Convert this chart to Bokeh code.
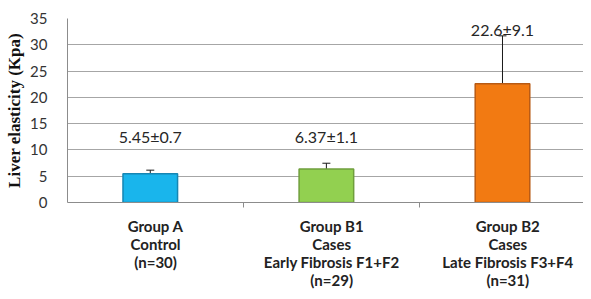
from bokeh.plotting import figure
from bokeh.models import ColumnDataSource, Range1d, FixedTicker, Whisker, TeeHead
from bokeh.transform import dodge
from bokeh.core.properties import value
from bokeh.embed import file_html
from bokeh.resources import INLINE

groups = ["Group A\nControl\n(n=30)",
          "Group B1\nCases\nEarly Fibrosis F1+F2\n(n=29)",
          "Group B2\nCases\nLate Fibrosis F3+F4\n(n=31)"]
means = [5.45, 6.37, 22.6]
sds = [0.7, 1.1, 9.1]
labels = ["5.45±0.7", "6.37±1.1", "22.6±9.1"]
label_y = [12.5, 12.5, 33.0]
fills = ["#19b5ec", "#92d050", "#f27a12"]
borders = ["#1686b3", "#6f9e3c", "#b85a14"]

centers = [i + 0.5 for i in range(len(groups))]
bounds = [i + 1 for i in range(len(groups) - 1)]
src = ColumnDataSource(dict(
    x=centers, top=means,
    upper=[m + s for m, s in zip(means, sds)],
    lower=[m - s for m, s in zip(means, sds)],
    lab=labels, ly=label_y, fill=fills, border=borders))

p = figure(width=583, height=291, output_backend="svg", toolbar_location=None,
           x_range=Range1d(0, 2.93), y_range=Range1d(0, 35),
           min_border_left=67, min_border_right=0, min_border_top=18,
           min_border_bottom=84)
p.outline_line_color = None
p.background_fill_color = "white"

xb = dodge("x", -0.03, range=p.x_range)
p.vbar(x=xb, top="top", width=0.31, bottom=0, source=src,
       fill_color="fill", line_color="border", line_width=1.5)

w = Whisker(base=xb, upper="upper", lower="lower", source=src,
            line_color="#1a1a1a", line_width=1,
            upper_head=TeeHead(size=8, line_color="#1a1a1a", line_width=1),
            lower_head=TeeHead(size=8, line_color="#1a1a1a", line_width=1))
p.add_layout(w)

p.text(x=xb, y="ly", text="lab", source=src, text_align="center",
       text_baseline="middle", text_font=value("Lato"),
       text_font_size="16px", text_color="#262626")

# axes
p.yaxis.ticker = FixedTicker(ticks=list(range(0, 36, 5)))
p.yaxis.axis_label = "Liver elasticity (Kpa)"
p.yaxis.axis_label_text_font = "Liberation Serif"
p.yaxis.axis_label_text_font_style = "bold"
p.yaxis.axis_label_text_font_size = "17px"
p.yaxis.axis_label_text_color = "#111111"
p.yaxis.axis_label_standoff = 3
p.yaxis.major_label_text_font = "Lato"
p.yaxis.major_label_text_font_size = "15px"
p.yaxis.major_label_text_color = "#333333"
p.yaxis.axis_line_color = "#8c8c8c"
p.yaxis.major_tick_line_color = None
p.yaxis.minor_tick_line_color = None
p.yaxis.major_label_standoff = 14

p.xaxis.ticker = FixedTicker(ticks=centers, minor_ticks=bounds)
p.xaxis.major_label_overrides = {c: g for c, g in zip(centers, groups)}
p.xaxis.major_label_text_font = "Lato"
p.xaxis.major_label_text_font_style = "bold"
p.xaxis.major_label_text_font_size = "15px"
p.xaxis.major_label_text_color = "#222222"
p.xaxis.major_label_text_line_height = 1.0
p.xaxis.major_tick_line_color = None
p.xaxis.minor_tick_line_color = "#8c8c8c"
p.xaxis.minor_tick_out = 5
p.xaxis.minor_tick_in = 0
p.xaxis.axis_line_color = "#8c8c8c"
p.xaxis.major_label_standoff = 8

p.xgrid.grid_line_color = None
p.ygrid.grid_line_color = "#a6a6a6"
p.ygrid.grid_line_width = 1

open("out.html", "w").write(file_html(p, INLINE))
